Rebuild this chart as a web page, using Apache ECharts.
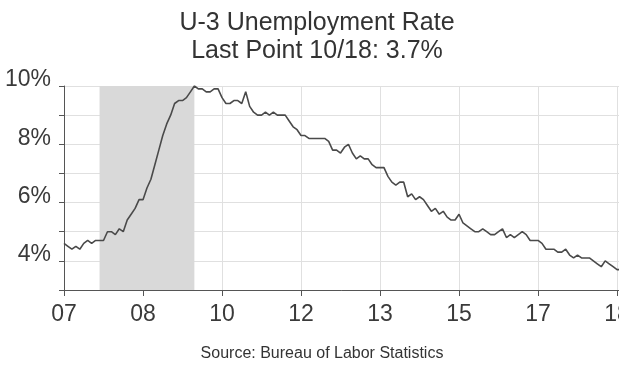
<!DOCTYPE html>
<html>
<head>
<meta charset="utf-8">
<script src="https://cdn.jsdelivr.net/npm/echarts@6/dist/echarts.min.js"></script>
<style>
html,body{margin:0;padding:0;background:#fff;}
#c{width:619px;height:365px;}
</style>
</head>
<body>
<div id="c"></div>
<script>
// Monthly U-3 unemployment rate, Jan 2007 - Oct 2018 (%)
const startYear = 2007;
const rate2007 = [4.6, 4.5, 4.4, 4.5, 4.4, 4.6, 4.7, 4.6, 4.7, 4.7, 4.7, 5.0];
const rate2008 = [5.0, 4.9, 5.1, 5.0, 5.4, 5.6, 5.8, 6.1, 6.1, 6.5, 6.8, 7.3];
const rate2009 = [7.8, 8.3, 8.7, 9.0, 9.4, 9.5, 9.5, 9.6, 9.8, 10.0, 9.9, 9.9];
const rate2010 = [9.8, 9.8, 9.9, 9.9, 9.6, 9.4, 9.4, 9.5, 9.5, 9.4, 9.8, 9.3];
const rate2011 = [9.1, 9.0, 9.0, 9.1, 9.0, 9.1, 9.0, 9.0, 9.0, 8.8, 8.6, 8.5];
const rate2012 = [8.3, 8.3, 8.2, 8.2, 8.2, 8.2, 8.2, 8.1, 7.8, 7.8, 7.7, 7.9];
const rate2013 = [8.0, 7.7, 7.5, 7.6, 7.5, 7.5, 7.3, 7.2, 7.2, 7.2, 6.9, 6.7];
const rate2014 = [6.6, 6.7, 6.7, 6.2, 6.3, 6.1, 6.2, 6.1, 5.9, 5.7, 5.8, 5.6];
const rate2015 = [5.7, 5.5, 5.4, 5.4, 5.6, 5.3, 5.2, 5.1, 5.0, 5.0, 5.1, 5.0];
const rate2016 = [4.9, 4.9, 5.0, 5.1, 4.8, 4.9, 4.8, 4.9, 5.0, 4.9, 4.7, 4.7];
const rate2017 = [4.7, 4.6, 4.4, 4.4, 4.4, 4.3, 4.3, 4.4, 4.2, 4.1, 4.2, 4.1];
const rate2018 = [4.1, 4.1, 4.0, 3.9, 3.8, 4.0, 3.9, 3.8, 3.7, 3.7];

const yearly = [rate2007, rate2008, rate2009, rate2010, rate2011, rate2012,
                rate2013, rate2014, rate2015, rate2016, rate2017, rate2018];

// Shaded period (as drawn in the reference)
const shadeStart = '2007-10';
const shadeEnd = '2009-10';

const yTicks = [3, 4, 5, 6, 7, 8, 9, 10];
const yLabelled = [4, 6, 8, 10];

const categories = [];
const values = [];
yearly.forEach((arr, yi) => {
  arr.forEach((v, mi) => {
    categories.push((startYear + yi) + '-' + String(mi + 1).padStart(2, '0'));
    values.push(v);
  });
});

const FONT = '"Liberation Sans", Arial, Helvetica, sans-serif';
const chart = echarts.init(document.getElementById('c'), null, {renderer: 'canvas'});
chart.setOption({
  backgroundColor: '#ffffff',
  animation: false,
  title: [
    {text: 'U-3 Unemployment Rate', left: 312, textAlign: 'center', top: 6,
     textStyle: {fontFamily: FONT, fontSize: 25, fontWeight: 'normal', color: '#333'}},
    {text: 'Last Point 10/18: 3.7%', left: 312, textAlign: 'center', top: 34,
     textStyle: {fontFamily: FONT, fontSize: 25, fontWeight: 'normal', color: '#333'}},
    {text: 'Source: Bureau of Labor Statistics', left: 317, textAlign: 'center', top: 341,
     textStyle: {fontFamily: FONT, fontSize: 16, fontWeight: 'normal', color: '#333'}}
  ],
  grid: {left: 64, top: 86, width: 557, height: 204, containLabel: false, outerBoundsMode: 'none'},
  xAxis: {
    type: 'category',
    data: categories,
    boundaryGap: false,
    axisLine: {lineStyle: {color: '#555', width: 1}},
    axisTick: {interval: 19, length: 6, lineStyle: {color: '#555'}},
    axisLabel: {interval: 19, margin: 13, fontFamily: FONT, fontSize: 23, color: '#3a3a3a',
      hideOverlap: false, formatter: v => v.slice(2, 4)},
    splitLine: {show: true, interval: 19, lineStyle: {color: '#e0e0e0', width: 1}}
  },
  yAxis: {
    type: 'value',
    min: yTicks[0], max: yTicks[yTicks.length - 1], interval: 1,
    axisLine: {show: true, lineStyle: {color: '#555', width: 1}},
    axisTick: {show: true, length: 5, lineStyle: {color: '#555'}},
    axisLabel: {margin: 13, fontFamily: FONT, fontSize: 23, color: '#3a3a3a',
      verticalAlign: 'bottom', lineHeight: 12,
      formatter: v => yLabelled.indexOf(v) >= 0 ? v + '%' : ''},
    splitLine: {show: true, lineStyle: {color: '#e0e0e0', width: 1}}
  },
  series: [{
    type: 'line',
    data: values,
    symbol: 'none',
    lineStyle: {color: '#4a4a4a', width: 1.6},
    markArea: {
      silent: true,
      itemStyle: {color: '#d9d9d9', opacity: 1},
      data: [[{xAxis: shadeStart}, {xAxis: shadeEnd}]]
    }
  }]
});
</script>
</body>
</html>
